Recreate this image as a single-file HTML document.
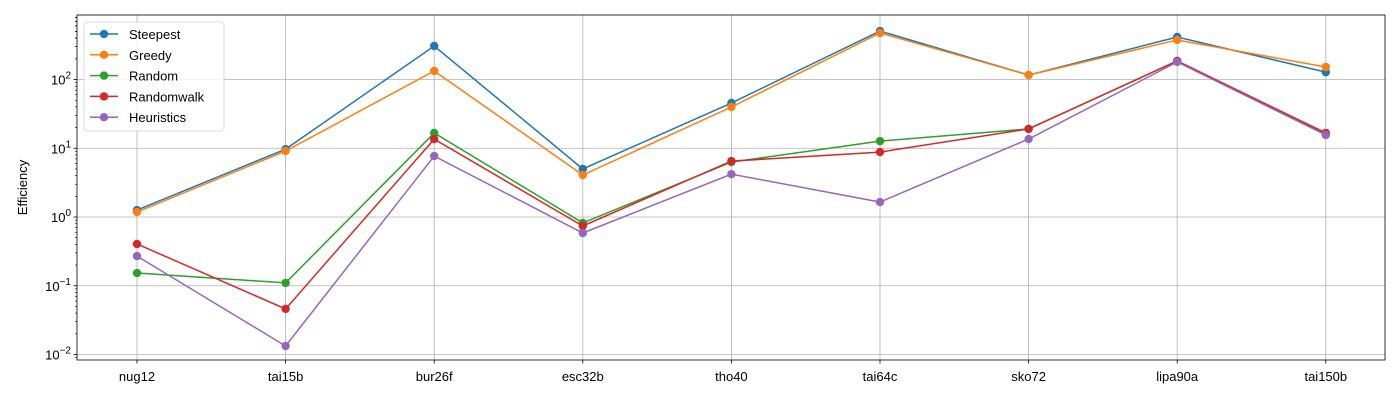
<!DOCTYPE html>
<html><head><meta charset="utf-8"><style>
html,body{margin:0;padding:0;background:#fff;}
svg{display:block;font-family:"Liberation Sans","DejaVu Sans",sans-serif;}
</style></head><body>
<svg id="chart" width="1400" height="400" xmlns="http://www.w3.org/2000/svg"></svg>
<script>
const categories = ["nug12","tai15b","bur26f","esc32b","tho40","tai64c","sko72","lipa90a","tai150b"];
const steepest = [1.26,9.7,307,5.0,45.5,507,116,415,128];
const greedy = [1.18,9.1,133,4.08,39.8,475,116,376,152];
const random = [0.153,0.11,16.7,0.82,6.3,12.7,19.1,186,16.1];
const randomwalk = [0.405,0.046,13.6,0.74,6.5,8.8,19.1,186,16.7];
const heuristics = [0.27,0.0133,7.7,0.585,4.2,1.65,13.6,180,15.6];
const seriesNames = ["Steepest","Greedy","Random","Randomwalk","Heuristics"];
const yTickExp = [-2,-1,0,1,2];

const colors = ["#1f77b4","#ff7f0e","#2ca02c","#d62728","#9467bd"];
const allSeries = [steepest,greedy,random,randomwalk,heuristics];
const NS = "http://www.w3.org/2000/svg";
const svg = document.getElementById("chart");
const L=77,R=1385,T=15,B=360;
const x0=137,dx=148.6;
function xs(i){return x0+i*dx;}
function ys(v){return 217-Math.log10(v)*68.75;}
function mk(tag,attrs,parent){const e=document.createElementNS(NS,tag);for(const k in attrs)e.setAttribute(k,attrs[k]);(parent||svg).appendChild(e);return e;}

const grid=mk("g",{});


categories.forEach((c,i)=>{
  mk("line",{x1:xs(i),x2:xs(i),y1:T,y2:B,stroke:"#b0b0b0","stroke-width":0.8},grid);
  mk("line",{x1:xs(i),x2:xs(i),y1:B,y2:B+3.5,stroke:"#000","stroke-width":0.8});
  const t=mk("text",{x:xs(i),y:B+21,"text-anchor":"middle","font-size":13,fill:"#000"});
  
  
  t.textContent=c;
});
yTickExp.forEach(e=>{
  const y=ys(Math.pow(10,e));
  mk("line",{x1:L,x2:R,y1:y,y2:y,stroke:"#b0b0b0","stroke-width":0.8},grid);
  mk("line",{x1:L-3.5,x2:L,y1:y,y2:y,stroke:"#000","stroke-width":0.8});
  const t=mk("text",{x:L-6,y:y+5,"text-anchor":"end","font-size":13,fill:"#000"});
  
  
  t.textContent="10";
  const s=mk("tspan",{dy:-6,"font-size":10},t);s.textContent=(e<0?"\u2212":"")+Math.abs(e);
  for(let m=2;m<10;m++){
    const v=Math.pow(10,e)*m;const yy=ys(v);
    if(yy>T&&yy<B) mk("line",{x1:L-2,x2:L,y1:yy,y2:yy,stroke:"#000","stroke-width":0.6});
  }
});
for(let m=2;m<10;m++){const yy=ys(0.001*m);if(yy>T&&yy<B)mk("line",{x1:L-2,x2:L,y1:yy,y2:yy,stroke:"#000","stroke-width":0.6});}
for(let m=2;m<10;m++){const yy=ys(100*m);if(yy>T&&yy<B)mk("line",{x1:L-2,x2:L,y1:yy,y2:yy,stroke:"#000","stroke-width":0.6});}

const yt=mk("text",{x:27,y:(T+B)/2,"text-anchor":"middle","font-size":13,transform:`rotate(-90 27 ${(T+B)/2})`});


yt.textContent="Efficiency";

allSeries.forEach((arr,si)=>{
  const g=mk("g",{});
  
  
  mk("polyline",{points:arr.map((v,i)=>xs(i)+","+ys(v)).join(" "),fill:"none",stroke:colors[si],"stroke-width":1.5},g);
  arr.forEach((v,i)=>{
    const c=mk("circle",{cx:xs(i),cy:ys(v),r:4.2,fill:colors[si]},g);
    
    
  });
});

const frame=mk("rect",{x:L,y:T,width:R-L,height:B-T,fill:"none",stroke:"#000","stroke-width":0.8});



const lg=mk("g",{});


mk("rect",{x:84,y:22,width:140,height:109,rx:3,fill:"#fff","fill-opacity":0.8,stroke:"#d0d0d0","stroke-width":0.8},lg);
seriesNames.forEach((n,i)=>{
  const y=34+i*20.8;
  const e=mk("g",{},lg);
  
  
  mk("line",{x1:90,x2:118,y1:y,y2:y,stroke:colors[i],"stroke-width":1.5},e);
  mk("circle",{cx:104,cy:y,r:4.2,fill:colors[i]},e);
  const t=mk("text",{x:129,y:y+5,"font-size":13,fill:"#000"},e);
  t.textContent=n;
});
</script>
</body></html>
